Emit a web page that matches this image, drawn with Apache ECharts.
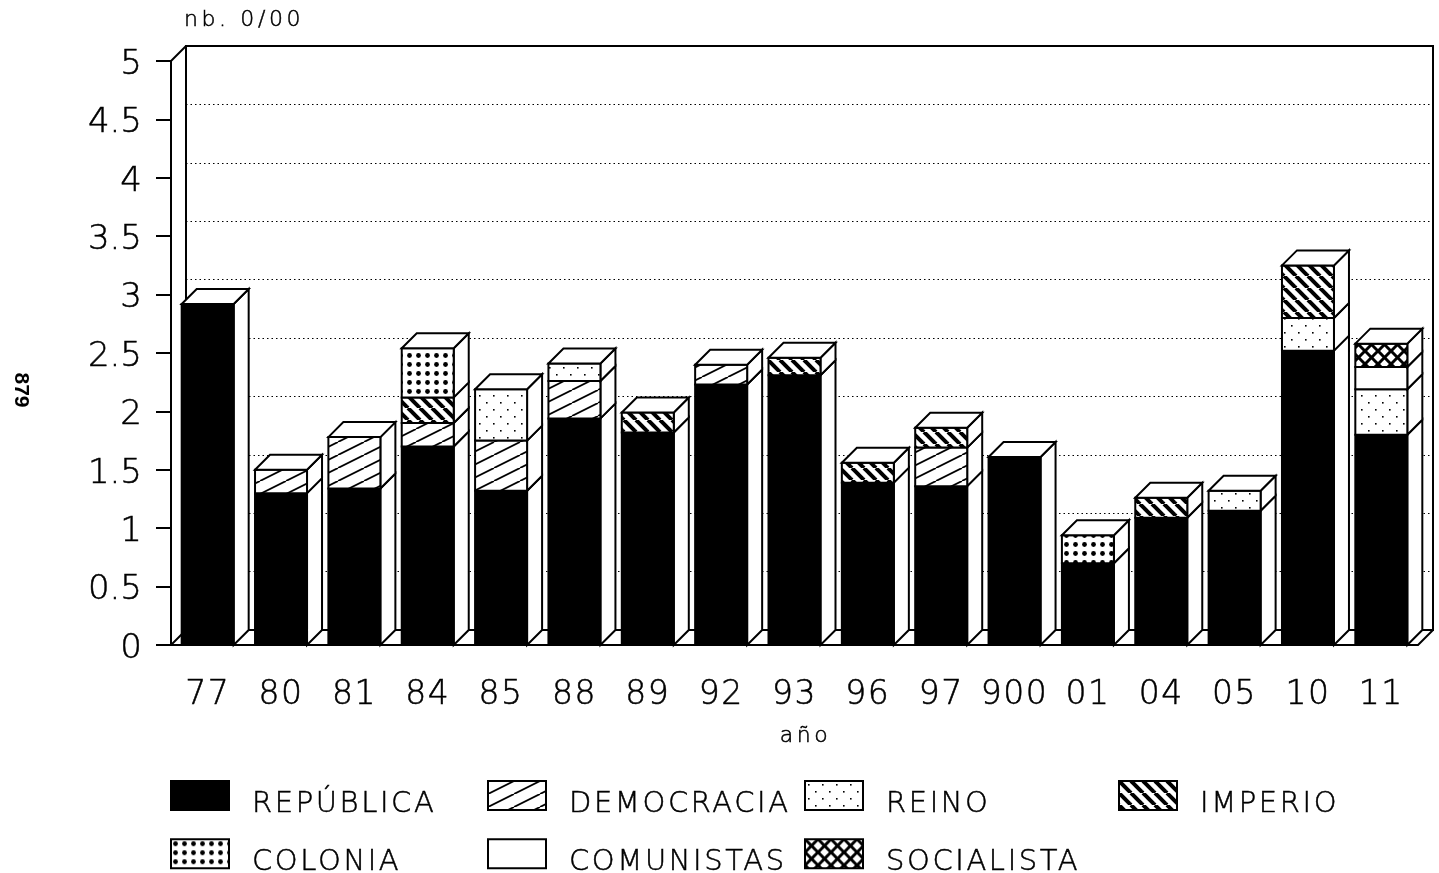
<!DOCTYPE html>
<html><head><meta charset="utf-8">
<style>html,body{margin:0;padding:0;background:#fff}#c{width:1439px;height:873px}</style>
<script src="https://cdn.jsdelivr.net/npm/echarts@6/dist/echarts.min.js"></script>
</head><body><div id="c"></div>
<script>
const categories = ['77','80','81','84','85','88','89','92','93','96','97','900','01','04','05','10','11'];
const republica   = [2.92,1.30,1.34,1.70,1.32,1.94,1.82,2.23,2.31,1.39,1.36,1.61,0.70,1.09,1.15,2.52,1.80];
const democracia  = [0,0.20,0.44,0.20,0.43,0.32,0,0.17,0,0,0.33,0,0,0,0,0,0];
const reino       = [0,0,0,0,0.44,0.15,0,0,0,0,0,0,0,0,0.17,0.28,0.39];
const imperio     = [0,0,0,0.22,0,0,0.17,0,0.15,0.17,0.17,0,0,0.17,0,0.45,0];
const colonia     = [0,0,0,0.42,0,0,0,0,0,0,0,0,0.24,0,0,0,0];
const comunistas  = [0,0,0,0,0,0,0,0,0,0,0,0,0,0,0,0,0.19];
const socialista  = [0,0,0,0,0,0,0,0,0,0,0,0,0,0,0,0,0.20];
const yTicks = [0,0.5,1,1.5,2,2.5,3,3.5,4,4.5,5];

// the reference's lettering is widely spaced; apply the spacing when text is painted
const SPACING={29:'2.6px',22:'3.6px',33:'1.5px'};
['fillText','strokeText'].forEach(fn=>{
  const orig=CanvasRenderingContext2D.prototype[fn];
  CanvasRenderingContext2D.prototype[fn]=function(t,x,y,m){
    const s=/(\d+(?:\.\d+)?)px/.exec(this.font);
    if('letterSpacing' in this) this.letterSpacing=(s&&SPACING[parseFloat(s[1])])||'0px';
    return m===undefined?orig.call(this,t,x,y):orig.call(this,t,x,y,m);
  };
});

function tile(w,h,draw){const c=document.createElement('canvas');c.width=w;c.height=h;const x=c.getContext('2d');x.fillStyle='#fff';x.fillRect(0,0,w,h);x.strokeStyle='#000';x.fillStyle='#000';draw(x);return {image:c,repeat:'repeat'};}
const pDem = tile(26,13,x=>{x.lineWidth=1.8;for(let o=-26;o<=26;o+=26){x.beginPath();x.moveTo(o,13);x.lineTo(o+26,0);x.stroke();}});
const pRei = tile(14,14,x=>{x.fillRect(3,3,1.6,1.6);x.fillRect(10,10,1.6,1.6);});
const pImp = tile(12,12,x=>{x.lineWidth=4;for(let o=-12;o<=12;o+=12){x.beginPath();x.moveTo(o,0);x.lineTo(o+12,12);x.stroke();}});
const pCol = tile(9,9,x=>{x.beginPath();x.arc(4.5,4.5,2.4,0,7);x.fill();});
const pSoc = tile(13,13,x=>{x.lineWidth=3;[[0,0,13,13],[0,13,13,0]].forEach(a=>{x.beginPath();x.moveTo(a[0],a[1]);x.lineTo(a[2],a[3]);x.stroke();});});

const stackDefs = [
 ['REPÚBLICA',republica,'#000'],['DEMOCRACIA',democracia,pDem],['REINO',reino,pRei],['IMPERIO',imperio,pImp],
 ['COLONIA',colonia,pCol],['COMUNISTAS',comunistas,'#fff'],['SOCIALISTA',socialista,pSoc]];
const totals = categories.map((_,i)=>stackDefs.reduce((s,d)=>s+d[1][i],0));
const DX=15, DY=15, BW=52, LW=2;
const line={stroke:'#000',lineWidth:LW,lineJoin:'miter'};

function renderer(k){
  return function(params,api){
    const i=api.value(0), v=stackDefs[k][1][i];
    if(!v) return;
    let base=0; for(let j=0;j<k;j++) base+=stackDefs[j][1][i];
    const b=api.coord([i,base]), t=api.coord([i,base+v]);
    const x0=b[0]-BW/2, x1=x0+BW, yb=b[1], yt=t[1];
    const kids=[
      {type:'polygon',shape:{points:[[x1,yb],[x1+DX,yb-DY],[x1+DX,yt-DY],[x1,yt]]},style:Object.assign({fill:'#fff'},line)},
      {type:'rect',shape:{x:x0,y:yt,width:BW,height:yb-yt},style:Object.assign({fill:stackDefs[k][2]},line)}
    ];
    if(Math.abs(base+v-totals[i])<1e-6){
      kids.push({type:'polygon',shape:{points:[[x0,yt],[x0+DX,yt-DY],[x1+DX,yt-DY],[x1,yt]]},style:Object.assign({fill:'#fff'},line)});
    }
    return {type:'group',children:kids};
  };
}
const FF='"DejaVu Sans"';
const ink={fontFamily:FF,fontWeight:200,color:'#000',textBorderColor:'#000',textBorderWidth:0.5};
const barSeries = stackDefs.map((d,k)=>({
  name:d[0],type:'custom',xAxisIndex:0,yAxisIndex:0,renderItem:renderer(k),clip:false,z:5+k,
  encode:{x:0,y:1},
  data:categories.map((c,i)=>[i,d[1][i]]),
  itemStyle:{color:d[2],borderColor:'#000',borderWidth:2}
}));
const wall={type:'custom',xAxisIndex:0,yAxisIndex:0,silent:true,z:3,clip:false,legendHoverLink:false,
  data:[[0,0]],
  renderItem:function(params,api){
    const r=params.coordSys;const L=r.x,T=r.y,B=r.y+r.height,R=r.x+r.width;
    const seg=(a,b,c,d)=>({type:'line',shape:{x1:a,y1:b,x2:c,y2:d},style:{stroke:'#000',lineWidth:LW}});
    return {type:'group',children:[seg(L,T,L+DX,T-DY),seg(L,B,L+DX,B-DY),seg(L,T,L,B),seg(R,B,R+DX,B-DY)]};
  }};
function legendAt(left,names){return {left:left,top:772,height:300,padding:0,orient:'vertical',itemWidth:58,itemHeight:29,itemGap:11,
  selectedMode:false,icon:'rect',data:names,formatter:n=>'{a|'+n+'}',
  textStyle:{rich:{a:Object.assign({},ink,{fontSize:29,lineHeight:20,padding:[18,0,0,18]})}}};}
const chart=echarts.init(document.getElementById('c'),null,{renderer:'canvas'});
chart.setOption({
  animation:false,backgroundColor:'#fff',
  title:{text:'nb. 0/00',left:184,top:9,padding:0,textStyle:Object.assign({},ink,{fontSize:22})},
  legend:[legendAt(170,['REPÚBLICA','COLONIA']),legendAt(487,['DEMOCRACIA','COMUNISTAS']),legendAt(804,['REINO','SOCIALISTA']),legendAt(1118,['IMPERIO'])],
  grid:[{left:171,top:61,width:1247,height:584},
        {left:186,top:46,width:1247,height:584,show:true,borderColor:'#000',borderWidth:2,backgroundColor:'transparent'}],
  xAxis:[{type:'category',gridIndex:0,data:categories,boundaryGap:true,
      axisLine:{lineStyle:{color:'#000',width:2}},
      axisTick:{alignWithLabel:true,length:15,lineStyle:{color:'#000',width:1.5}},
      axisLabel:Object.assign({},ink,{interval:0,margin:34,fontSize:33}),
      name:'año',nameLocation:'middle',nameGap:80,nameTextStyle:Object.assign({},ink,{fontSize:22,padding:[0,0,0,22]}),
      splitLine:{show:false}},
    {type:'category',gridIndex:1,data:categories,show:false}],
  yAxis:[{type:'value',gridIndex:0,min:0,max:5,interval:0.5,
      axisLine:{show:true,lineStyle:{color:'#000',width:2}},
      axisTick:{show:true,length:15,lineStyle:{color:'#000',width:2}},
      axisLabel:{margin:29,customValues:yTicks,formatter:v=>'{a|'+v+'}',
        rich:{a:Object.assign({},ink,{fontSize:34,lineHeight:20,padding:[8,0,0,0]})}},
      splitLine:{show:false}},
    {type:'value',gridIndex:1,min:0,max:5,interval:0.5,
      axisLine:{show:false},axisTick:{show:false},axisLabel:{show:false},
      splitLine:{show:true,lineStyle:{color:'#000',width:1,type:[1.5,3]}}}],
  graphic:[{type:'text',x:21,y:390,rotation:-Math.PI/2,style:{text:'879',align:'center',verticalAlign:'middle',fontFamily:'"Liberation Sans"',fontWeight:'bold',fontSize:21,fill:'#000'}}],
  series:[wall].concat(barSeries)
});
</script></body></html>
